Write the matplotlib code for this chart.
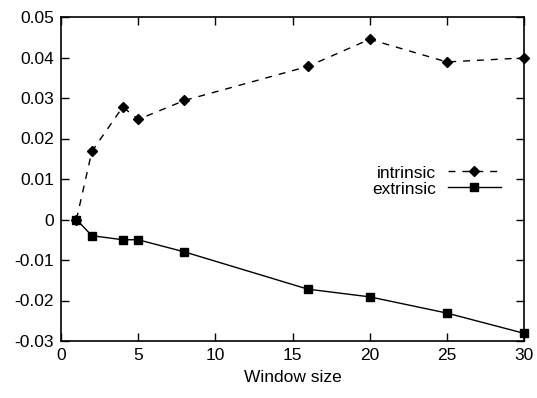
import matplotlib
matplotlib.use("Agg")
import matplotlib.pyplot as plt

plt.rcParams['font.family'] = ['Liberation Sans', 'DejaVu Sans']

# window sizes
window = [1, 2, 4, 5, 8, 16, 20, 25, 30]
intrinsic = [0.0, 0.0168, 0.0278, 0.0247, 0.0294, 0.0378, 0.0445, 0.0389, 0.0399]
extrinsic = [0.0, -0.004, -0.005, -0.005, -0.008, -0.0172, -0.0191, -0.0231, -0.0281]

xticks = [0, 5, 10, 15, 20, 25, 30]
yticks = [-0.03, -0.02, -0.01, 0, 0.01, 0.02, 0.03, 0.04, 0.05]
ylabels = ["-0.03", "-0.02", "-0.01", "0", "0.01", "0.02", "0.03", "0.04", "0.05"]

fig = plt.figure(figsize=(5.37, 3.98), dpi=100)
ax = fig.add_axes([61 / 537, 1 - 341 / 398, 463 / 537, 324 / 398])

ax.plot(window, intrinsic, color="black", lw=1, linestyle=(0, (5, 5)),
        marker="D", markersize=5, label="intrinsic", clip_on=False)
ax.plot(window, extrinsic, color="black", lw=1,
        marker="s", markersize=6, label="extrinsic", clip_on=False)

ax.set_xlim(0, 30)
ax.set_ylim(-0.03, 0.05)
ax.set_xticks(xticks)
ax.set_xticklabels([str(t) for t in xticks])
ax.set_yticks(yticks)
ax.set_yticklabels(ylabels)
ax.tick_params(direction="in", top=True, right=True, length=6, width=1,
               labelsize=12.5, pad=5)
for s in ax.spines.values():
    s.set_linewidth(1.2)
ax.set_xlabel("Window size", fontsize=12.5, labelpad=5)

ax.legend(loc="center right", bbox_to_anchor=(0.968, 0.494), frameon=False,
          markerfirst=False, fontsize=12.5, handlelength=3.0, labelspacing=0.05,
          handletextpad=0.7, borderpad=0)

fig.savefig("out.png", dpi=100)
